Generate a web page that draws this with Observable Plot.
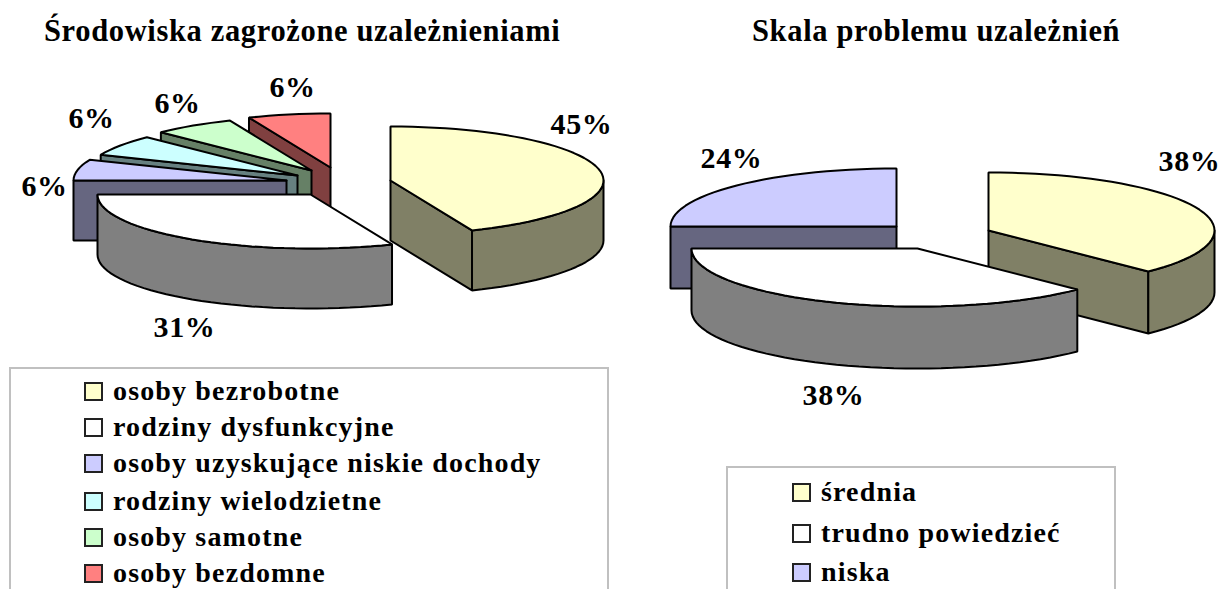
<!DOCTYPE html>
<html lang="pl"><head><meta charset="utf-8">
<script src="https://cdn.jsdelivr.net/npm/d3@7"></script>
<script src="https://cdn.jsdelivr.net/npm/@observablehq/plot@0.6"></script>
<style>
html,body{margin:0;padding:0;width:1222px;height:589px;overflow:hidden;background:#fff;}
body{position:relative;font-family:"Liberation Serif",serif;font-weight:bold;color:#000;}
.col{position:absolute;top:0;height:589px;overflow:hidden;}
.title{position:absolute;top:12px;font-size:30.5px;line-height:38px;white-space:nowrap;letter-spacing:.65px;}
.plot{position:absolute;top:70px;}
.plot svg{display:block;overflow:visible;}
.pct{letter-spacing:.6px;}
.legend{position:absolute;box-sizing:border-box;border:2px solid #c0c0c0;height:400px;}
.row{position:absolute;display:flex;align-items:center;white-space:nowrap;font-size:28px;line-height:30px;letter-spacing:1.15px;}
.sw{box-sizing:border-box;width:19px;height:19px;border:2px solid #222;margin-right:10px;flex:none;}
</style></head><body>
<div class="col" id="left" style="left:0;width:620px"></div>
<div class="col" id="right" style="left:620px;width:602px"></div>
<script>
// Left chart: values
const envNames = ["osoby bezrobotne","rodziny dysfunkcyjne","osoby uzyskujące niskie dochody","rodziny wielodzietne","osoby samotne","osoby bezdomne"];
const envValues = [14,10,2,2,2,2];
const envLabels = ["45%","31%","6%","6%","6%","6%"];
// Right chart: values
const scaleNames = ["średnia","trudno powiedzieć","niska"];
const scaleValues = [3,3,2];
const scaleLabels = ["38%","38%","24%"];
// Colours
const topColors  = ["#FFFFCC","#FFFFFF","#CCCCFF","#CCFFFF","#CCFFCC","#FF8080"];
const sideColors = ["#808066","#808080","#666680","#668080","#668066","#804040"];
// Layout (page pixels)
const envLayout = {
  title:"Środowiska zagrożone uzależnieniami", titleX:44, xDomain:[0,620], yDomain:[70,360],
  rx:213, ry:54, depth:60,
  apex:[[390,180],[310,194],[286,180],[297,175],[311,170],[330,167]],
  order:[5,4,3,2,0,1],
  labelAt:[[581,124],[184,327],[44,186],[91,118],[177,103],[292,87]],
  legend:{left:9,top:367,width:600,swX:73,txt:[10,46,82,120,156,192]}
};
const scaleLayout = {
  title:"Skala problemu uzależnień", titleX:132, xDomain:[620,1222], yDomain:[70,460],
  rx:226, ry:58, depth:62,
  apex:[[988,230],[917,248],[896,226]],
  order:[2,0,1],
  labelAt:[[1189,161],[833,395],[731,158]],
  legend:{left:106,top:466,width:390,swX:64,txt:[12,53,92]}
};
function chart(hostId, names, values, labels, L){
  const host = document.getElementById(hostId);
  const total = d3.sum(values);
  const rad = d => d*Math.PI/180;
  let acc = 0;
  const slices = values.map((v,i)=>{const a0=acc; acc+=v/total*360; return {i,a0,a1:acc};});
  const polys = [];
  let id = 0;
  const add = (pts,fill)=>{const k=id++; pts.forEach(([x,y])=>polys.push({x,y,k,fill}));};
  const rim = (c,a,dy=0)=>[c[0]+L.rx*Math.sin(rad(a)), c[1]-L.ry*Math.cos(rad(a))+dy];
  for(const idx of L.order){
    const s=slices[idx], c=L.apex[idx];
    const arc=(a,b,dy)=>{const out=[];const n=Math.max(2,Math.ceil((b-a)/3));for(let j=0;j<=n;j++)out.push(rim(c,a+(b-a)*j/n,dy));return out;};
    const radialFace=a=>{const p=rim(c,a);add([c,p,[p[0],p[1]+L.depth],[c[0],c[1]+L.depth],c],sideColors[idx]);};
    if(s.a0>180&&s.a0<360) radialFace(s.a0);
    if(s.a1>0&&s.a1<180) radialFace(s.a1);
    const r0=Math.max(s.a0,90), r1=Math.min(s.a1,270);
    if(r1>r0){const t=arc(r0,r1,0), b=arc(r0,r1,L.depth).reverse();add([...t,...b,t[0]],sideColors[idx]);}
    add([c,...arc(s.a0,s.a1,0),c],topColors[idx]);
  }
  const text = labels.map((t,i)=>({t,x:L.labelAt[i][0],y:L.labelAt[i][1]}));
  const w=L.xDomain[1]-L.xDomain[0], h=L.yDomain[1]-L.yDomain[0];
  const plot = Plot.plot({
    width:w,height:h,margin:0,
    x:{domain:L.xDomain,range:[0,w],axis:null},
    y:{domain:L.yDomain,range:[0,h],axis:null},
    color:{type:"identity"},
    marks:[
      Plot.line(polys,{x:"x",y:"y",z:"k",fill:"fill",stroke:"#000",strokeWidth:2,strokeLinejoin:"miter",curve:"linear"}),
      Plot.text(text,{x:"x",y:"y",text:"t",fontFamily:"Liberation Serif",fontWeight:"bold",fontSize:30,fill:"#000",className:"pct"})
    ]
  });
  const title=document.createElement("div");title.className="title";title.textContent=L.title;title.style.left=L.titleX+"px";host.appendChild(title);
  const wrap=document.createElement("div");wrap.className="plot";wrap.appendChild(plot);host.appendChild(wrap);
  const box=document.createElement("div");box.className="legend";
  box.style.cssText=`left:${L.legend.left}px;top:${L.legend.top}px;width:${L.legend.width}px`;
  names.forEach((n,i)=>{
    const row=document.createElement("div");row.className="row";
    row.style.cssText=`left:${L.legend.swX}px;top:${L.legend.txt[i]-3}px`;
    const sw=document.createElement("span");sw.className="sw";sw.style.background=topColors[i];
    const tx=document.createElement("span");tx.textContent=n;
    row.append(sw,tx);box.appendChild(row);
  });
  host.appendChild(box);
}
chart("left",envNames,envValues,envLabels,envLayout);
chart("right",scaleNames,scaleValues,scaleLabels,scaleLayout);
</script>
</body></html>
